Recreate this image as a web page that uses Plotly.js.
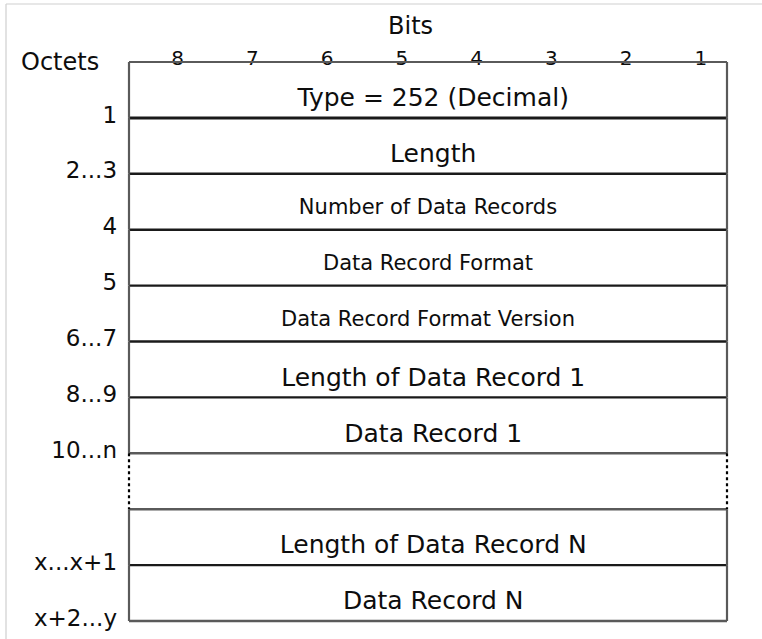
<!DOCTYPE html>
<html>
<head>
<meta charset="utf-8">
<script src="https://cdn.plot.ly/plotly-3.0.1.min.js"></script>
<style>html,body{margin:0;padding:0;background:#fff;}#chart{width:762px;height:639px;}</style>
</head>
<body>
<div id="chart"></div>
<script>
// ---- data ----
const bitLabels = ['8', '7', '6', '5', '4', '3', '2', '1'];
const fieldNames = ['Type = 252 (Decimal)', 'Length', 'Number of Data Records', 'Data Record Format',
  'Data Record Format Version', 'Length of Data Record 1', 'Data Record 1', '',
  'Length of Data Record N', 'Data Record N'];
const octetLabels = ['1', '2...3', '4', '5', '6...7', '8...9', '10...n', '', 'x...x+1', 'x+2...y'];
const smallFieldRows = [2, 3, 4];     // rows drawn with the smaller font
const elidedRows = [7];               // row drawn with dotted sides (omitted records)
const xTitle = 'Bits';
const yTitle = 'Octets';

// ---- layout helpers ----
const nBits = bitLabels.length;
const nRows = fieldNames.length;
const FONT = 'DejaVu Sans, Liberation Sans, Arial, sans-serif';
const INK = '#0d0d0d';

const bitIndex = bitLabels.map((b, i) => i);
const rowIndex = fieldNames.map((f, i) => i);

const traces = [];
const big = rowIndex.filter(i => fieldNames[i] && !smallFieldRows.includes(i));
const small = rowIndex.filter(i => fieldNames[i] && smallFieldRows.includes(i));
traces.push({
  type: 'scatter', mode: 'text', hoverinfo: 'skip', showlegend: false,
  x: big.map(() => nBits / 2 + 0.07), y: big.map(i => i + 0.68),
  text: big.map(i => fieldNames[i]), textposition: 'middle center',
  textfont: {family: FONT, size: 25, color: INK}
});
traces.push({
  type: 'scatter', mode: 'text', hoverinfo: 'skip', showlegend: false,
  x: small.map(() => nBits / 2), y: small.map(i => i + 0.63),
  text: small.map(i => fieldNames[i]), textposition: 'middle center',
  textfont: {family: FONT, size: 21, color: INK}
});
// octet labels on the left
const oct = rowIndex.filter(i => octetLabels[i]);
traces.push({
  type: 'scatter', mode: 'text', hoverinfo: 'skip', showlegend: false,
  x: oct.map(() => -0.16), y: oct.map(i => i + 0.98),
  text: oct.map(i => octetLabels[i]), textposition: 'middle left',
  textfont: {family: FONT, size: 23, color: INK}
});
// bit numbers along the top edge
traces.push({
  type: 'scatter', mode: 'text', hoverinfo: 'skip', showlegend: false,
  x: bitIndex.map(i => i + 0.65), y: bitIndex.map(() => -0.03),
  text: bitLabels, textposition: 'middle center',
  textfont: {family: FONT, size: 20, color: INK}
});

// ---- frame shapes ----
const shapes = [];
const GRAY = '#5a5a5a', DARK = '#1a1a1a';
shapes.push({type: 'line', xref: 'x', yref: 'y', x0: 0, x1: nBits, y0: 0, y1: 0,
  line: {color: GRAY, width: 1.8}});
rowIndex.forEach(i => {
  const elided = elidedRows.includes(i);
  const nextElided = elidedRows.includes(i + 1);
  const last = i === nRows - 1;
  shapes.push({type: 'line', xref: 'x', yref: 'y', x0: 0, x1: nBits, y0: i + 1, y1: i + 1,
    line: {color: (elided || nextElided || last) ? GRAY : DARK, width: i === 0 ? 3 : 2.4}});
  [0, nBits].forEach(xv => shapes.push({type: 'line', xref: 'x', yref: 'y',
    x0: xv, x1: xv, y0: i, y1: i + 1,
    line: {color: elided ? '#000' : GRAY, width: 2.2, dash: elided ? 'dot' : 'solid'}}));
});
// light picture border (left and top)
shapes.push({type: 'line', xref: 'paper', yref: 'paper', x0: 6 / 762, x1: 6 / 762, y0: 0, y1: 1 - 4 / 639,
  line: {color: '#cfcfcf', width: 1.2}});
shapes.push({type: 'line', xref: 'paper', yref: 'paper', x0: 6 / 762, x1: 1, y0: 1 - 4 / 639, y1: 1 - 4 / 639,
  line: {color: '#cfcfcf', width: 1.2}});

const pxPerBit = (727 - 129) / nBits;
const pxPerRow = (621 - 62) / nRows;

const layout = {
  width: 762, height: 639,
  margin: {l: 0, r: 0, t: 0, b: 0, pad: 0},
  paper_bgcolor: '#ffffff', plot_bgcolor: '#ffffff',
  showlegend: false,
  xaxis: {range: [-129 / pxPerBit, (762 - 129) / pxPerBit], visible: false, fixedrange: true},
  yaxis: {range: [(639 - 62) / pxPerRow, -62 / pxPerRow], visible: false, fixedrange: true},
  shapes: shapes,
  annotations: [
    {xref: 'x', yref: 'y', x: 3.77, y: -0.64, text: xTitle, showarrow: false,
      font: {family: FONT, size: 24, color: INK}, xanchor: 'center', yanchor: 'middle'},
    {xref: 'x', yref: 'y', x: -0.92, y: 0, text: yTitle, showarrow: false,
      font: {family: FONT, size: 24, color: INK}, xanchor: 'center', yanchor: 'middle'}
  ]
};

Plotly.newPlot('chart', traces, layout, {staticPlot: true, displayModeBar: false});
</script>
</body>
</html>
